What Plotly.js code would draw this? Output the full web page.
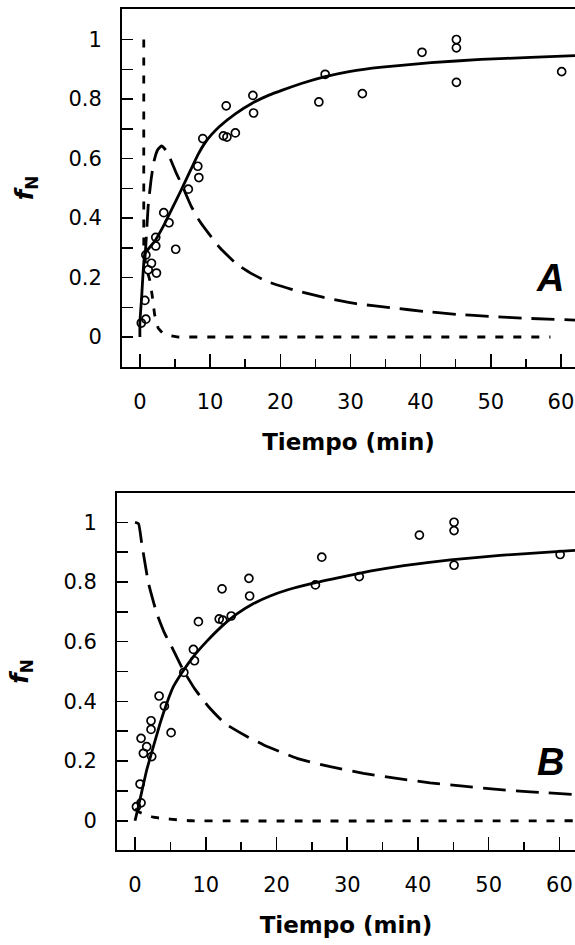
<!DOCTYPE html>
<html>
<head>
<meta charset="utf-8">
<script src="https://cdn.plot.ly/plotly-3.0.1.min.js"></script>
<style>html,body{margin:0;padding:0;background:#fff;}#chart{width:575px;height:945px;}</style>
</head>
<body>
<div id="chart"></div>
<script>
// Experimental points (same in both panels)
var tData = [0.2, 0.85, 0.71, 0.85, 1.18, 1.65, 2.36, 2.26, 2.26, 3.4, 4.15, 5.1, 6.9, 8.25, 8.4, 8.96, 12.3, 11.9, 12.4, 13.6, 16.1, 16.2, 25.5, 26.4, 31.7, 40.2, 45.1, 45.1, 45.1, 60.1];
var fData = [0.047, 0.06, 0.123, 0.276, 0.226, 0.248, 0.215, 0.306, 0.335, 0.418, 0.384, 0.295, 0.497, 0.574, 0.536, 0.667, 0.777, 0.676, 0.672, 0.686, 0.812, 0.753, 0.79, 0.883, 0.818, 0.957, 1.0, 0.972, 0.856, 0.892];

// Panel A curves
var aSolidT = [0, 0, 0.24, 0.47, 0.71, 2.12, 3.4, 4.6, 5.9, 7.0, 8.3, 9.2, 10.2, 11.3, 13.7, 16.0, 18.4, 20.3, 23, 26.4, 30, 34.5, 41.5, 48.6, 55.7, 62.0];
var aSolidF = [0, 0.052, 0.13, 0.222, 0.281, 0.322, 0.375, 0.432, 0.495, 0.55, 0.614, 0.65, 0.68, 0.707, 0.752, 0.786, 0.813, 0.83, 0.852, 0.875, 0.893, 0.907, 0.922, 0.933, 0.940, 0.946];
var aLongT = [0.7, 0.85, 1.18, 1.6, 2.0, 2.5, 3.07, 3.7, 4.4, 5.2, 6.1, 7.3, 8.5, 9.9, 11.4, 13.8, 15.9, 18.2, 21.5, 26.2, 30.8, 35.6, 40.5, 45.2, 50, 54.9, 62.0];
var aLongF = [0.26, 0.31, 0.44, 0.53, 0.59, 0.628, 0.642, 0.628, 0.595, 0.55, 0.505, 0.44, 0.39, 0.345, 0.3, 0.245, 0.213, 0.186, 0.161, 0.133, 0.112, 0.099, 0.086, 0.076, 0.069, 0.063, 0.057];
var aShortT = [0.55, 0.55, 0.9, 1.42, 1.75, 2.1, 2.6, 3.2, 4.0, 5.5, 58.5];
var aShortF = [1.0, 0.29, 0.235, 0.19, 0.14, 0.075, 0.03, 0.014, 0.006, 0.0, 0.0];

// Panel B curves
var bSolidT = [0, 0.71, 1.65, 2.59, 3.54, 4.48, 5.42, 6.74, 8.25, 10.1, 12.3, 14.4, 16.7, 19.1, 21.5, 25.2, 28.5, 33.2, 38, 44.6, 51.6, 62.2];
var bSolidF = [0, 0.072, 0.17, 0.248, 0.326, 0.393, 0.449, 0.5, 0.55, 0.6, 0.652, 0.693, 0.727, 0.753, 0.773, 0.796, 0.813, 0.836, 0.855, 0.874, 0.889, 0.906];
var bLongT = [0, 0.5, 0.94, 1.9, 3.07, 4.24, 4.95, 5.66, 6.8, 8.49, 10.4, 12.7, 16.0, 18.2, 22.9, 27.6, 32.3, 37, 41.7, 46.4, 51.2, 55.9, 62.2];
var bLongF = [1.0, 0.995, 0.93, 0.796, 0.695, 0.625, 0.594, 0.56, 0.505, 0.44, 0.382, 0.326, 0.28, 0.254, 0.209, 0.181, 0.159, 0.142, 0.127, 0.116, 0.105, 0.097, 0.088];
var bShortT = [0, 0.5, 1.65, 2.6, 3.8, 6.1, 8, 62.2];
var bShortF = [0.04, 0.03, 0.019, 0.012, 0.008, 0.003, 0.0, 0.0];

var xTicks = [0, 10, 20, 30, 40, 50, 60];
var xMinor = [5, 15, 25, 35, 45, 55];
var yTicks = [0, 0.2, 0.4, 0.6, 0.8, 1];
var yMinor = [0.1, 0.3, 0.5, 0.7, 0.9];
var yTickText = ['0', '0.2', '0.4', '0.6', '0.8', '1'];
var panelLabels = ['A', 'B'];
var xTitle = 'Tiempo (min)';
var yTitle = '<b><i>f</i><sub>N</sub></b>';

var K = 'black';
var LONG = '23px,10px';
var SHORT = '8px,10px';

function pts(xa, ya) {
  return {x: tData, y: fData, xaxis: xa, yaxis: ya, type: 'scatter', mode: 'markers',
    marker: {symbol: 'circle-open', size: 8, color: K, line: {width: 1.7, color: K}}, hoverinfo: 'skip'};
}
function line(x, y, xa, ya, dash, shape, sm) {
  return {x: x, y: y, xaxis: xa, yaxis: ya, type: 'scatter', mode: 'lines',
    line: {color: K, width: 2.8, dash: dash, shape: shape || 'linear', smoothing: sm || 0.4}, hoverinfo: 'skip'};
}

var data = [
  line(aShortT, aShortF, 'x', 'y', SHORT),
  line(aLongT, aLongF, 'x', 'y', LONG, 'spline'),
  line(aSolidT, aSolidF, 'x', 'y', 'solid', 'spline', 0.3),
  pts('x', 'y'),
  line(bShortT, bShortF, 'x2', 'y2', SHORT, 'spline'),
  line(bLongT, bLongF, 'x2', 'y2', LONG, 'spline'),
  line(bSolidT, bSolidF, 'x2', 'y2', 'solid', 'spline'),
  pts('x2', 'y2')
];

var tickFont = {family: 'DejaVu Sans', size: 21, color: K};
var titleFont = {family: 'DejaVu Sans', size: 23, color: K, weight: 'bold'};

function xAxis(domain, range, anchor) {
  return {domain: domain, range: range, anchor: anchor, showline: true, linewidth: 2, linecolor: K,
    mirror: true, showgrid: false, zeroline: false, ticks: 'inside', ticklen: 13, tickwidth: 1.5, tickcolor: K,
    tickmode: 'array', tickvals: xTicks, tickfont: tickFont, ticklabelstandoff: 15, ticklabeloverflow: 'allow',
    minor: {tickmode: 'array', tickvals: xMinor, ticks: 'inside', ticklen: 8, tickwidth: 1.5, tickcolor: K, showgrid: false},
    title: {text: xTitle, font: titleFont, standoff: 21}};
}
function yAxis(domain, range, anchor) {
  return {domain: domain, range: range, anchor: anchor, showline: true, linewidth: 2, linecolor: K,
    mirror: false, showgrid: false, zeroline: false, ticks: 'inside', ticklen: 11, tickwidth: 1.5, tickcolor: K,
    tickmode: 'array', tickvals: yTicks, ticktext: yTickText, tickfont: tickFont, ticklabelstandoff: 14,
    minor: {tickmode: 'array', tickvals: yMinor, ticks: 'inside', ticklen: 11, tickwidth: 1.5, tickcolor: K, showgrid: false},
    title: {text: yTitle, font: {family: 'DejaVu Sans', size: 24, color: K}, standoff: 28}};
}

var layout = {
  width: 575, height: 945,
  margin: {l: 0, r: 0, t: 0, b: 0},
  paper_bgcolor: 'white', plot_bgcolor: 'white',
  showlegend: false,
  xaxis: xAxis([122 / 575, 1], [-2.55, 62.0], 'y'),
  yaxis: yAxis([1 - 367 / 945, 1 - 9 / 945], [-0.1008, 1.1025], 'x'),
  xaxis2: xAxis([117 / 575, 1], [-2.55, 62.2], 'y2'),
  yaxis2: yAxis([1 - 850 / 945, 1 - 493 / 945], [-0.098, 1.098], 'x2'),
  annotations: [
    {xref: 'x', yref: 'y', x: 58.4, y: 0.198, text: '<b><i>' + panelLabels[0] + '</i></b>', showarrow: false,
      xanchor: 'center', yanchor: 'middle', font: {family: 'Liberation Sans', size: 38, color: K}},
    {xref: 'x2', yref: 'y2', x: 58.7, y: 0.198, text: '<b><i>' + panelLabels[1] + '</i></b>', showarrow: false,
      xanchor: 'center', yanchor: 'middle', font: {family: 'Liberation Sans', size: 38, color: K}}
  ]
};

Plotly.newPlot('chart', data, layout, {displayModeBar: false, staticPlot: true});
</script>
</body>
</html>
